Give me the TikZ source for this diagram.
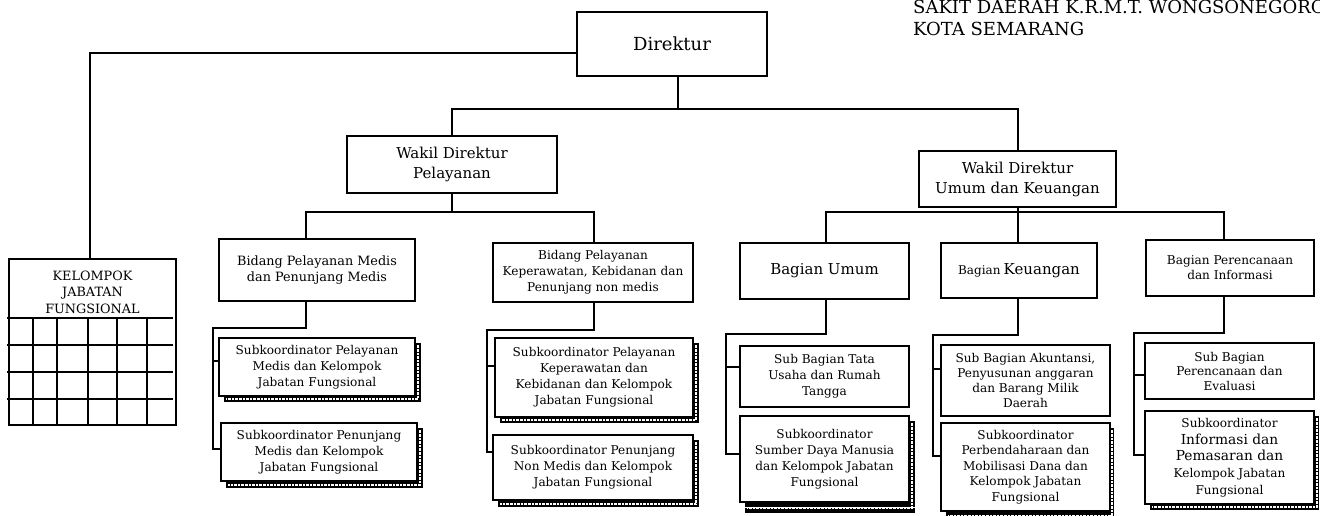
\documentclass[tikz,border=0pt]{standalone}
\usepackage{fontspec}
\setmainfont{DejaVu Serif}
\usetikzlibrary{calc}
\newcommand\ladshadow[3]{%
  \fill[black] ([shift={(0,6)}]#1.north east) rectangle ([shift={(#2,#3)}]#1.south east);
  \fill[black] ([shift={(6,0)}]#1.south west) rectangle ([shift={(#2,#3)}]#1.south east);
  \draw[white,line width=2.2pt,dash pattern=on 2.6pt off 1pt]
    ([shift={(#2/2,8)}]#1.north east) -- ([shift={(#2/2,#3/2)}]#1.south east)
    -- ([shift={(8,#3/2)}]#1.south west);
}
\tikzset{
  box/.style={draw, line width=1.3pt, fill=white, inner sep=0pt, align=center},
  conn/.style={line width=2pt},
  gridl/.style={line width=1.5pt},
  f18/.style={font=\fontsize{18}{22}\selectfont},
  f15/.style={font=\fontsize{15}{20}\selectfont},
  f13/.style={font=\fontsize{12.8}{16.5}\selectfont},
  f12/.style={font=\fontsize{12.1}{16}\selectfont},
  ttl/.style={font=\fontsize{18}{22}\selectfont, inner sep=0pt, anchor=base west},
}
\begin{document}
\begin{tikzpicture}[x=1pt,y=-1pt]
\useasboundingbox (0,0) rectangle (1320,516);
\clip (0,0) rectangle (1320,516);
\fill[white] (0,0) rectangle (1320,516);

% title
\node[ttl] (t1) at (913,14) {SAKIT DAERAH K.R.M.T. WONGSONEGORO};
\node[ttl] (t2) at (913,36) {KOTA SEMARANG};

% top levels
\node[box,f18,minimum width=190,minimum height=64] (dir) at (672,44) {Direktur};
\node[box,f15,minimum width=210,minimum height=57] (wp) at (452,164.5) {Wakil Direktur\\Pelayanan};
\node[box,f15,minimum width=197,minimum height=56] (wu) at (1017.5,179) {Wakil Direktur\\Umum dan Keuangan};

% kelompok jabatan fungsional
\node[box,line width=1.5pt,minimum width=167,minimum height=166] (kjf) at (92.5,342) {};
\node[f13,align=center,inner sep=0pt] (kjft) at (92.5,292) {KELOMPOK\\JABATAN\\FUNGSIONAL};
\foreach \y in {318,345,372,399} \draw[gridl] (7,\y) -- (173,\y);
\foreach \x in {33,57,88,117,147} \draw[gridl] (\x,318) -- (\x,425);

% bidang / bagian
\node[box,f13,minimum width=196,minimum height=62] (bm) at (317,270) {Bidang Pelayanan Medis\\dan Penunjang Medis};
\node[box,f12,minimum width=200,minimum height=59] (bk) at (593,272.5) {Bidang Pelayanan\\Keperawatan, Kebidanan dan\\Penunjang non medis};
\node[box,f15,minimum width=169,minimum height=56] (bu) at (824.5,271) {Bagian Umum};
\node[box,minimum width=156,minimum height=55] (bkeu) at (1019,270.5) {{\fontsize{12}{14}\selectfont Bagian} {\fontsize{15}{18}\selectfont Keuangan}};
\node[box,minimum width=168,minimum height=56,font=\fontsize{12.1}{15}\selectfont] (bp) at (1230,268) {Bagian Perencanaan\\dan Informasi};

% sub units
\node[box,f12,minimum width=196,minimum height=58] (s1) at (317,367) {Subkoordinator Pelayanan\\Medis dan Kelompok\\Jabatan Fungsional};
\node[box,f12,minimum width=196,minimum height=58] (s2) at (319,452) {Subkoordinator Penunjang\\Medis dan Kelompok\\Jabatan Fungsional};
\node[box,f12,minimum width=198,minimum height=79] (s3) at (594,377.5) {Subkoordinator Pelayanan\\Keperawatan dan\\Kebidanan dan Kelompok\\Jabatan Fungsional};
\node[box,f12,minimum width=200,minimum height=65] (s4) at (593,467.5) {Subkoordinator Penunjang\\Non Medis dan Kelompok\\Jabatan Fungsional};
\node[box,f12,minimum width=169,minimum height=61] (s5) at (824.5,376.5) {Sub Bagian Tata\\Usaha dan Rumah\\Tangga};
\node[box,f12,minimum width=169,minimum height=86] (s6) at (824.5,459) {Subkoordinator\\Sumber Daya Manusia\\dan Kelompok Jabatan\\Fungsional};
\node[box,minimum width=169,minimum height=71,font=\fontsize{12.1}{15}\selectfont] (s7) at (1025.5,380.5) {Sub Bagian Akuntansi,\\Penyusunan anggaran\\dan Barang Milik\\Daerah};
\node[box,minimum width=169,minimum height=88,font=\fontsize{12.1}{15.5}\selectfont] (s8) at (1025.5,467) {Subkoordinator\\Perbendaharaan dan\\Mobilisasi Dana dan\\Kelompok Jabatan\\Fungsional};
\node[box,minimum width=169,minimum height=56,font=\fontsize{12.1}{14.5}\selectfont] (s9) at (1229.5,371) {Sub Bagian\\Perencanaan dan\\Evaluasi};
\node[box,minimum width=169,minimum height=93,font=\fontsize{12.1}{16.7}\selectfont] (s10) at (1229.5,457.5) {Subkoordinator\\{\fontsize{13.8}{16.7}\selectfont Informasi dan}\\{\fontsize{13.8}{16.7}\selectfont Pemasaran dan}\\Kelompok Jabatan\\Fungsional};

% shadows
\ladshadow{s1}{5}{5}
\ladshadow{s2}{5}{6}
\ladshadow{s3}{5}{5}
\ladshadow{s4}{5}{6}
\ladshadow{s6}{5}{10}
\draw[white,line width=0.8pt] ([shift={(6,5)}]s6.south west) -- ([shift={(5,5)}]s6.south east);
\ladshadow{s8}{3}{8}
\ladshadow{s10}{4}{5}

% connectors: direktur level
\coordinate (jd) at (678,109);
\draw[conn] (dir.south -| jd) -- (jd);
\draw[conn] (wp.north) -- (wp.north |- jd) -- (wu.north |- jd) -- (wu.north);
\draw[conn] ([shift={(0,9)}]dir.west) -| ([xshift=-2.5]kjf.north);

% wakil pelayanan
\coordinate (jp) at (452,212);
\draw[conn] (wp.south) -- (jp);
\draw[conn] ([xshift=-11]bm.north) |- (jp) -| ([xshift=1]bk.north);

% wakil umum
\coordinate (ju) at (1018,212);
\draw[conn] (wu.south -| ju) -- (ju) -- (ju |- bkeu.north);
\draw[conn] ([xshift=1.5]bu.north) |- (ju) -| ([xshift=-6]bp.north);

% bidang medis subs
\coordinate (tm) at (213,328);
\coordinate (s1w) at ([shift={(0,-6)}]s1.west);
\coordinate (s2w) at ([shift={(0,-3)}]s2.west);
\draw[conn] ([xshift=-11]bm.south) |- (tm) |- (s2w);
\draw[conn] (tm |- s1w) -- (s1w);

% bidang keperawatan subs
\coordinate (tk) at (487,330);
\coordinate (s3w) at ([shift={(0,-12)}]s3.west);
\coordinate (s4w) at ([shift={(0,-16)}]s4.west);
\draw[conn] ([xshift=1]bk.south) |- (tk) |- (s4w);
\draw[conn] (tk |- s3w) -- (s3w);

% bagian umum subs
\coordinate (tu) at (726,334);
\coordinate (s5w) at ([shift={(0,-9.5)}]s5.west);
\coordinate (s6w) at ([shift={(0,-5)}]s6.west);
\draw[conn] ([xshift=1.5]bu.south) |- (tu) |- (s6w);
\draw[conn] (tu |- s5w) -- (s5w);

% bagian keuangan subs
\coordinate (tq) at (933,335);
\coordinate (s7w) at ([shift={(0,-11.5)}]s7.west);
\coordinate (s8w) at ([shift={(0,-11)}]s8.west);
\draw[conn] (bkeu.south -| ju) |- (tq) |- (s8w);
\draw[conn] (tq |- s7w) -- (s7w);

% bagian perencanaan subs
\coordinate (tp) at (1134,333);
\coordinate (s9w) at ([shift={(0,4)}]s9.west);
\coordinate (s10w) at ([shift={(0,-2.5)}]s10.west);
\draw[conn] ([xshift=-6]bp.south) |- (tp) |- (s10w);
\draw[conn] (tp |- s9w) -- (s9w);
\end{tikzpicture}
\end{document}
